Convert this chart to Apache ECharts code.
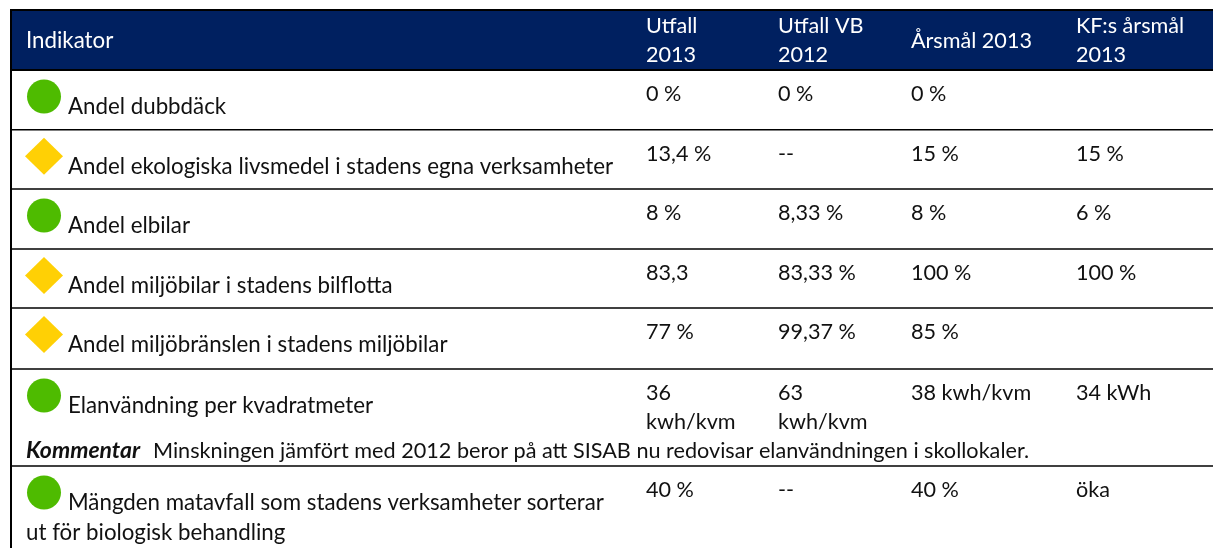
<!DOCTYPE html>
<html>
<head>
<meta charset="utf-8">
<title>Indikatorer</title>
<script src="https://cdn.jsdelivr.net/npm/echarts@6/dist/echarts.min.js"></script>
<style>
	html,body{margin:0;padding:0;background:#fff;}
	#table{width:1213px;height:548px;}
</style>
</head>
<body>
<div id="table"></div>
<script>
// tabellens innehall
var columnTitles = ['Indikator', 'Utfall\n2013', 'Utfall VB\n2012', 'Årsmål 2013', 'KF:s årsmål\n2013'];
var indicators = [
	'Andel dubbdäck',
	'Andel ekologiska livsmedel i stadens egna verksamheter',
	'Andel elbilar',
	'Andel miljöbilar i stadens bilflotta',
	'Andel miljöbränslen i stadens miljöbilar',
	'Elanvändning per kvadratmeter',
	'Mängden matavfall som stadens verksamheter sorterar\nut för biologisk behandling'
];
var indicatorStatus = ['ok', 'warn', 'ok', 'warn', 'warn', 'ok', 'ok'];
var utfall2013 = ['0 %', '13,4 %', '8 %', '83,3', '77 %', '36\nkwh/kvm', '40 %'];
var utfallVb2012 = ['0 %', '--', '8,33 %', '83,33 %', '99,37 %', '63\nkwh/kvm', '--'];
var arsmal2013 = ['0 %', '15 %', '8 %', '100 %', '85 %', '38 kwh/kvm', '40 %'];
var kfArsmal2013 = ['', '15 %', '6 %', '100 %', '', '34 kWh', 'öka'];
var commentLabel = 'Kommentar';
var commentText = 'Minskningen jämfört med 2012 beror på att SISAB nu redovisar elanvändningen i skollokaler.';

// layout
var FONT = 'Lato, "Open Sans", sans-serif';
var FONT_NAME = 22.3;
var FONT_VALUE = 21.6;
var BASE_SHIFT = 7; // fran baslinje till textens mitt
var LINE_H = 29;
var colX = [26, 646, 778, 911, 1076];
var rowTops = [70, 129.7, 189, 249, 308, 369, 466];
var commentRow = 5;
var colors = {head:'#002060', ok:'#4EBB00', warn:'#FFD005', text:'#111111', line:'#000000'};

var table = echarts.init(document.getElementById('table'));

function txt(api, x, y, text, fill, font){
	var p = api.coord([x, y - BASE_SHIFT]);
	return {
		type:'text',
		style:{x:p[0], y:p[1], text:text, fill:fill, font:font, textAlign:'left', textVerticalAlign:'middle'}
	};
}
function hline(api, y, w){
	var a = api.coord([10, y]), b = api.coord([1213, y]);
	return {type:'line', shape:{x1:a[0], y1:a[1], x2:b[0], y2:b[1]}, style:{stroke:colors.line, lineWidth:w}};
}

function renderHeader(params, api){
	var kids = [];
	var p0 = api.coord([11, 10]), p1 = api.coord([1213, 70]);
	kids.push({type:'rect', shape:{x:p0[0], y:p0[1], width:p1[0]-p0[0], height:p1[1]-p0[1]}, style:{fill:colors.head}});
	kids.push(hline(api, 10, 2));
	kids.push(hline(api, 70, 2));
	// vansterkant
	var a = api.coord([11, 9]), b = api.coord([11, 548]);
	kids.push({type:'line', shape:{x1:a[0], y1:a[1], x2:b[0], y2:b[1]}, style:{stroke:colors.line, lineWidth:2}});
	columnTitles.forEach(function(t, i){
		var lines = t.split('\n');
		var base = lines.length > 1 ? 33 : 48;
		var size = i === 0 ? FONT_NAME : FONT_VALUE;
		lines.forEach(function(l, j){ kids.push(txt(api, colX[i], base + j * LINE_H, l, '#ffffff', size + 'px ' + FONT)); });
	});
	return {type:'group', children:kids};
}

function renderRow(params, api){
	var i = params.dataIndex;
	var top = rowTops[i];
	var kids = [];
	if(i > 0) kids.push(hline(api, top, i === 6 ? 1.4 : 1.6));
	var c = api.coord([44, top + 26.5]);
	if(indicatorStatus[i] === 'ok'){
		kids.push({type:'circle', shape:{cx:c[0], cy:c[1], r:17}, style:{fill:colors.ok}});
	}else{
		kids.push({type:'polygon', shape:{points:[[c[0]-19,c[1]],[c[0],c[1]-18.5],[c[0]+19,c[1]],[c[0],c[1]+18.5]]}, style:{fill:colors.warn}});
	}
	indicators[i].split('\n').forEach(function(l, j){
		kids.push(txt(api, j === 0 ? 68 : colX[0], top + 44 + j * 30, l, colors.text, FONT_NAME + 'px ' + FONT));
	});
	[utfall2013, utfallVb2012, arsmal2013, kfArsmal2013].forEach(function(col, k){
		col[i].split('\n').forEach(function(l, j){
			kids.push(txt(api, colX[k + 1], top + 31.5 + j * LINE_H, l, colors.text, FONT_VALUE + 'px ' + FONT));
		});
	});
	if(i === commentRow){
		kids.push(txt(api, colX[0], top + 89, commentLabel, colors.text, 'italic bold 23px ' + FONT));
		kids.push(txt(api, 153, top + 89, commentText, colors.text, '21.65px ' + FONT));
	}
	return {type:'group', children:kids};
}

table.setOption({
	animation:false,
	grid:{left:0, right:0, top:0, bottom:0},
	xAxis:{type:'value', min:0, max:1213, show:false},
	yAxis:{type:'value', min:0, max:548, inverse:true, show:false},
	series:[
		{type:'custom', coordinateSystem:'cartesian2d', renderItem:renderHeader, data:[0], silent:true, clip:false},
		{type:'custom', coordinateSystem:'cartesian2d', renderItem:renderRow, data:indicators.map(function(n, i){ return i; }), silent:true, clip:false}
	]
});
</script>
</body>
</html>
